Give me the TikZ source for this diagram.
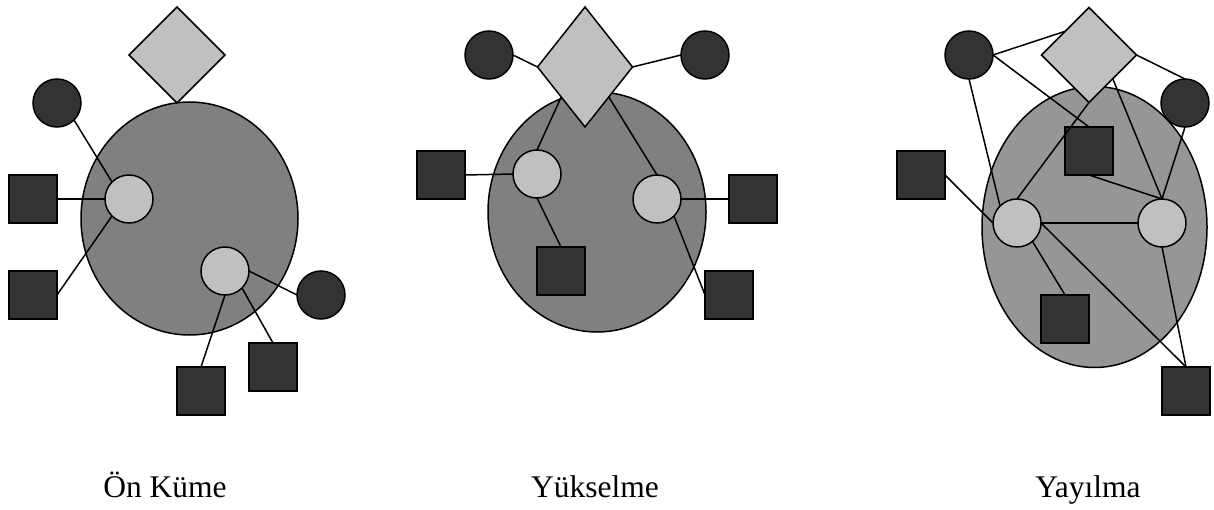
\documentclass[tikz,border=0pt]{standalone}
\usepackage{fontspec}
\setmainfont{Liberation Serif}
\usetikzlibrary{shapes.geometric}

\definecolor{hubgray}{HTML}{C0C0C0}
\definecolor{leafgray}{HTML}{333333}
\definecolor{clustergray}{HTML}{808080}
\definecolor{spreadgray}{HTML}{969696}

\tikzset{
  cluster/.style={ellipse, draw, line width=1.5pt, fill=clustergray, inner sep=0pt, outer sep=0pt},
  hub/.style={circle, draw, line width=1.5pt, fill=hubgray, minimum size=48pt, inner sep=0pt, outer sep=0pt},
  leafdot/.style={circle, draw, line width=1.5pt, fill=leafgray, minimum size=48pt, inner sep=0pt, outer sep=0pt},
  leafbox/.style={rectangle, draw, line width=1.5pt, fill=leafgray, minimum size=48pt, inner sep=0pt, outer sep=0pt},
  seed/.style={diamond, draw, line width=1.5pt, fill=hubgray, inner sep=0pt, outer sep=0pt},
  link/.style={line width=1.5pt},
  caption/.style={anchor=base, font=\fontsize{31.5}{38}\selectfont}
}

\begin{document}
\begin{tikzpicture}[x=1pt, y=-1pt]
\useasboundingbox (0,0) rectangle (1214,510);

% Ön Küme
\node[cluster, minimum width=217pt, minimum height=233pt] (c1) at (189.5,218.5) {};
\node[seed, minimum width=96pt, minimum height=96pt] (s1) at (177,55) {};
\node[leafdot] (d1a) at (57,103) {};
\node[leafdot] (d1b) at (321,295) {};
\node[hub] (h1a) at (129,199) {};
\node[hub] (h1b) at (225,271) {};
\node[leafbox] (b1a) at (33,199) {};
\node[leafbox] (b1b) at (33,295) {};
\node[leafbox] (b1c) at (273,367) {};
\node[leafbox] (b1d) at (201,391) {};
\draw[link] (d1a.-45) -- (h1a.135);
\draw[link] (b1a.east) -- (h1a.west);
\draw[link] (b1b.east) -- (h1a.-135);
\draw[link] (h1b.east) -- (d1b.west);
\draw[link] (h1b.south) -- (b1d.north);
\draw[link] (h1b.-45) -- (b1c.north);
\node[caption] (t1) at (165,497) {Ön Küme};

% Yükselme
\node[cluster, minimum width=218pt, minimum height=240pt] (c2) at (597,212) {};
\node[seed, minimum width=95pt, minimum height=120pt] (s2) at (585,67) {};
\node[leafdot] (d2a) at (489,55) {};
\node[leafdot] (d2b) at (705,55) {};
\node[hub] (h2a) at (537,174) {};
\node[hub] (h2b) at (657,199) {};
\node[leafbox] (b2a) at (441,175) {};
\node[leafbox] (b2b) at (561,271) {};
\node[leafbox] (b2c) at (753,199) {};
\node[leafbox] (b2d) at (729,295) {};
\draw[link] (d2a.east) -- (s2.west);
\draw[link] (s2.east) -- (d2b.west);
\draw[link] (s2.south west) -- (h2a.north);
\draw[link] (s2.south east) -- (h2b.north);
\draw[link] (b2a.east) -- (h2a.west);
\draw[link] (h2a.south) -- (b2b.north);
\draw[link] (h2b.east) -- (b2c.west);
\draw[link] (h2b.-45) -- (b2d.west);
\node[caption] (t2) at (595,497) {Yükselme};

% Yayılma
\node[cluster, fill=spreadgray, minimum width=225pt, minimum height=281pt] (c3) at (1094.5,227) {};
\node[seed, minimum width=95pt, minimum height=95pt] (s3) at (1089,55) {};
\node[leafdot] (d3a) at (969,55) {};
\node[leafdot] (d3b) at (1185,103) {};
\node[hub] (h3a) at (1017,223) {};
\node[hub] (h3b) at (1162,223) {};
\node[leafbox] (b3a) at (921,175) {};
\node[leafbox] (b3b) at (1089,151) {};
\node[leafbox] (b3c) at (1065,319) {};
\node[leafbox] (b3d) at (1186,391) {};
\draw[link] (d3a.east) -- (s3.north west);
\draw[link] (d3a.east) -- (b3b.north);
\draw[link] (d3a.south) -- (h3a.135);
\draw[link] (b3a.east) -- (h3a.west);
\draw[link] (s3.south) -- (h3a.north);
\draw[link] (s3.east) -- (d3b.north);
\draw[link] (s3.south east) -- (h3b.north);
\draw[link] (d3b.south) -- (h3b.north);
\draw[link] (b3b.south) -- (h3b.north);
\draw[link] (h3a.east) -- (h3b.west);
\draw[link] (h3a.-50) -- (b3c.north);
\draw[link] (h3a.east) -- (b3d.north);
\draw[link] (h3b.south) -- (b3d.north);
\node[caption] (t3) at (1088,497) {Yayılma};
\end{tikzpicture}
\end{document}
